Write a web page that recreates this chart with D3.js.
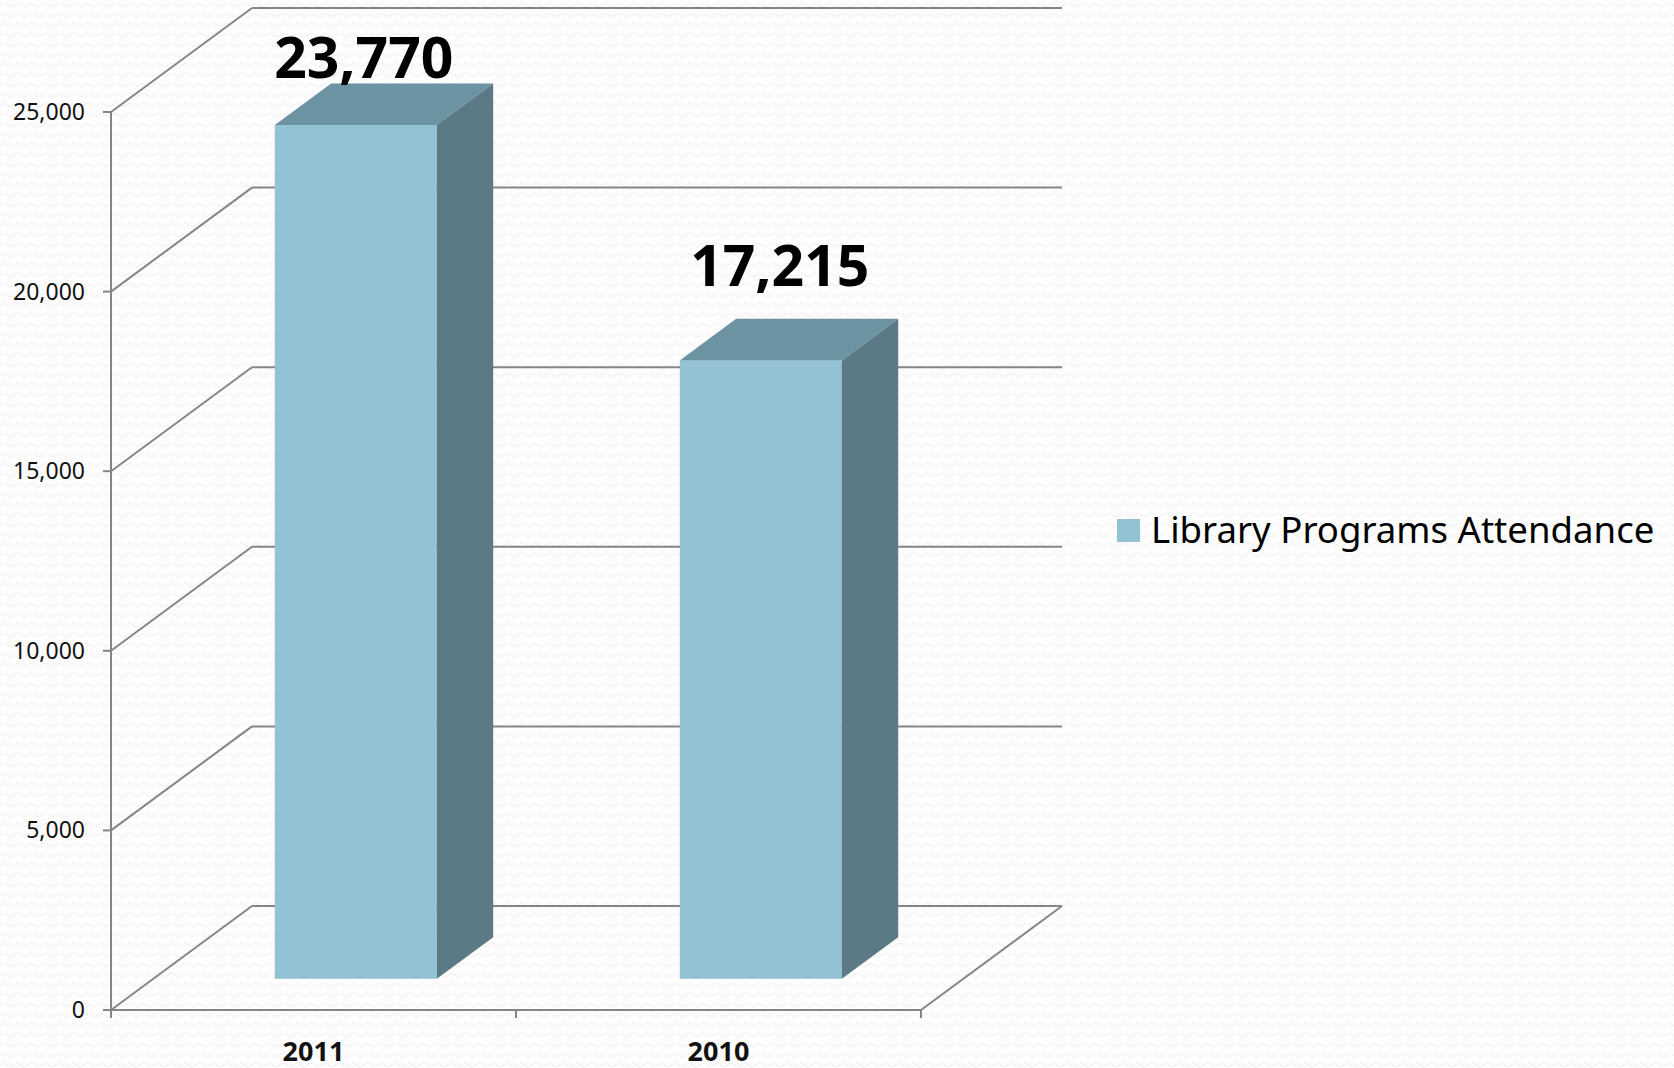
<!DOCTYPE html>
<html>
<head>
<meta charset="utf-8">
<script src="https://cdn.jsdelivr.net/npm/d3@7"></script>
<style>
  body { margin: 0; background: #fbfbfb; }
  svg { display: block; font-family: "Noto Sans", "Open Sans", sans-serif; }
</style>
</head>
<body>
<svg id="chart" width="1674" height="1068"></svg>
<script>
const categories = ["2011", "2010"];
const attendance = [23770, 17215];
const yTicks = [0, 5000, 10000, 15000, 20000, 25000];
const seriesName = "Library Programs Attendance";

const width = 1674, height = 1068;
// 3d depth offset of the back wall
const DX = 141, DY = -104;
// bar sits between these depth fractions
const t0 = 0.3, t1 = 0.7;

const colFront = "#92c2d4", colTop = "#6c93a1", colSide = "#5b7a85";
const gridCol = "#858585";

const svg = d3.select("#chart");

svg.append("defs").html(`
  <pattern id="bgTex" width="14" height="10" patternUnits="userSpaceOnUse">
    <rect width="14" height="10" fill="#fdfdfd"/>
    <path d="M0 5 Q3.5 2 7 5 T14 5" fill="none" stroke="#f1f1f1" stroke-width="1.2"/>
  </pattern>
`);
svg.append("rect").attr("width", width).attr("height", height).attr("fill", "url(#bgTex)");

const x = d3.scaleBand().domain(categories).range([111, 921]).paddingInner(0.6).paddingOuter(0.3);
const y = d3.scaleLinear().domain([0, 25000]).range([1010, 112]);

const fmt = d3.format(",");
const x0 = x.range()[0], x1 = x.range()[1];

// walls + gridlines
const grid = svg.append("g").attr("stroke", gridCol).attr("stroke-width", 2).attr("fill", "none");
yTicks.forEach(v => {
    grid.append("line").attr("x1", x0).attr("y1", y(v)).attr("x2", x0 + DX).attr("y2", y(v) + DY);
    grid.append("line").attr("x1", x0 + DX).attr("y1", y(v) + DY).attr("x2", x1 + DX).attr("y2", y(v) + DY);
});
// floor right edge
grid.append("line").attr("x1", x1).attr("y1", y(0)).attr("x2", x1 + DX).attr("y2", y(0) + DY);

// axes
const ax = svg.append("g").attr("stroke", gridCol).attr("stroke-width", 2);
ax.append("line").attr("x1", x0).attr("y1", y(25000)).attr("x2", x0).attr("y2", y(0));
ax.append("line").attr("x1", x0).attr("y1", y(0)).attr("x2", x1).attr("y2", y(0));
yTicks.forEach(v => {
    ax.append("line").attr("x1", x0 - 8).attr("y1", y(v)).attr("x2", x0).attr("y2", y(v));
});
const catTicks = [x0, ...categories.slice(1).map(c => x(c) - x.step() * x.paddingInner() / 2), x1];
catTicks.forEach(cx => {
    ax.append("line").attr("x1", cx).attr("y1", y(0)).attr("x2", cx).attr("y2", y(0) + 8);
});

svg.append("g").selectAll("text")
    .data(yTicks)
    .enter()
    .append("text")
    .attr("x", 85)
    .attr("y", d => y(d))
    .attr("dy", "0.35em")
    .attr("text-anchor", "end")
    .attr("font-size", 23)
    .attr("fill", "#111")
    .text(d => fmt(d));

svg.append("g").selectAll("text")
    .data(categories)
    .enter()
    .append("text")
    .attr("x", d => x(d) + x.bandwidth() / 2)
    .attr("y", 1061)
    .attr("text-anchor", "middle")
    .attr("font-size", 27)
    .attr("font-weight", "bold")
    .attr("fill", "#111")
    .text(d => d);

// bars
const bw = x.bandwidth();
const ddx = DX * (t1 - t0), ddy = DY * (t1 - t0);
const bars = categories.map((c, i) => {
    const xl = x(c) + DX * t0;
    const xr = xl + bw;
    const yb = y(0) + DY * t0;
    const yt = y(attendance[i]) + DY * t0;
    return { c, v: attendance[i], xl, xr, yb, yt };
});

const g = svg.append("g").selectAll("g.bar").data(bars).enter().append("g").attr("class", "bar");
g.append("rect")
    .attr("x", d => d.xl).attr("y", d => d.yt)
    .attr("width", bw).attr("height", d => d.yb - d.yt)
    .attr("fill", colFront);
g.append("path")
    .attr("d", d => `M${d.xl},${d.yt}L${d.xr},${d.yt}L${d.xr + ddx},${d.yt + ddy}L${d.xl + ddx},${d.yt + ddy}Z`)
    .attr("fill", colTop);
g.append("path")
    .attr("d", d => `M${d.xr},${d.yt}L${d.xr + ddx},${d.yt + ddy}L${d.xr + ddx},${d.yb + ddy}L${d.xr},${d.yb}Z`)
    .attr("fill", colSide);

// value labels
g.append("text")
    .each(function (d) {
        let by = d.yt + ddy - 33;
        const clamped = by < 78;
        if (clamped) by = 78;
        d3.select(this)
            .attr("x", d.xl + bw / 2 + (clamped ? 8 : 19))
            .attr("y", by);
    })
    .attr("text-anchor", "middle")
    .attr("font-size", 57)
    .attr("font-weight", "bold")
    .attr("fill", "#000")
    .text(d => fmt(d.v));

// legend
const lg = svg.append("g");
lg.append("rect").attr("x", 1117).attr("y", 519).attr("width", 23).attr("height", 23).attr("fill", colFront);
lg.append("text").attr("x", 1151).attr("y", 543).attr("font-size", 36.6).attr("fill", "#000").text(seriesName);
</script>
</body>
</html>
